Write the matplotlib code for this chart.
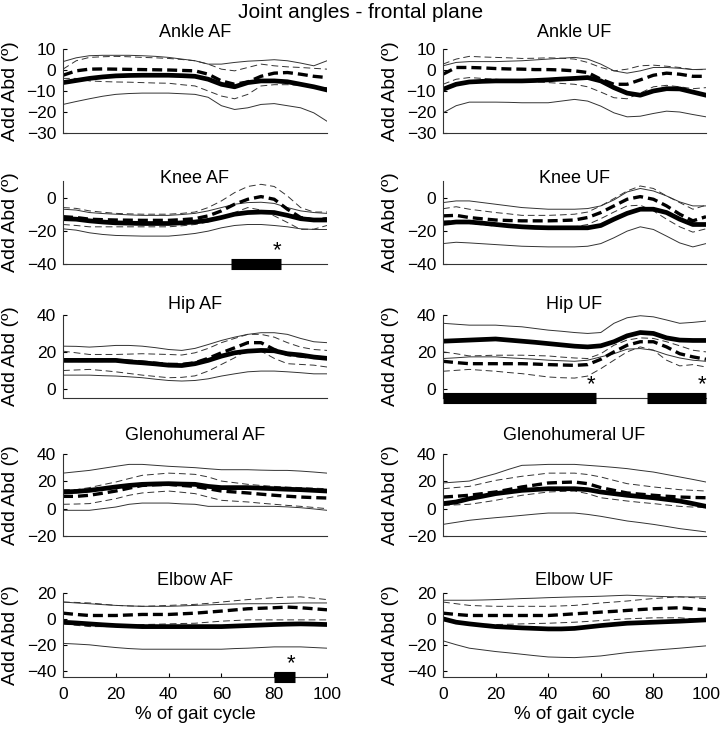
import matplotlib
matplotlib.use("Agg")
import matplotlib.pyplot as plt
import numpy as np

plt.rcParams['font.family'] = ['Liberation Sans', 'DejaVu Sans']

# % of gait cycle, one value every 5 %
gait = np.arange(0, 101, 5)

# solid = group mean (thick) with +/- SD (thin); dashed = other group
ankle_af_s = [-6, -5, -4, -3.3, -2.8, -2.6, -2.5, -2.5, -2.5, -2.7, -3, -4.4, -6.8, -8, -6, -5.2, -5.2, -5.6, -6.8, -8, -9.5]
ankle_af_s_up = [4, 5.8, 6.8, 7, 7, 7, 6.8, 6.5, 6, 5.2, 4.4, 2.8, 2.8, 3.6, 4.2, 4.5, 4.9, 4.4, 3.3, 2, 4.4]
ankle_af_s_lo = [-16.4, -15, -13.7, -12.5, -11.6, -11.2, -11, -11, -11, -11.3, -11.6, -13, -17, -18.8, -18, -16.4, -16, -17, -18, -20.4, -24.4]
ankle_af_d = [-2.5, -0.4, 0.4, 0.5, 0.4, 0.3, 0.2, 0.1, 0, -0.2, -0.4, -2, -5.2, -6.8, -5.7, -3, -1.5, -1.2, -2, -3, -3.6]
ankle_af_d_up = [0.4, 4.4, 6, 6.3, 6.5, 6.3, 6, 5.8, 5.5, 5, 4.4, 2.8, 0.4, -0.4, 1.2, 2.8, 2, 1.5, 1.2, 0.8, 0.4]
ankle_af_d_lo = [-4, -4, -5.2, -5.5, -5.7, -5.8, -6, -6.2, -6.3, -7, -7.6, -10, -12.4, -13.7, -11.6, -7.6, -7, -7, -7.3, -8, -8.4]

ankle_uf_s = [-9.2, -6.8, -5.7, -5.4, -5.2, -5.2, -5.2, -5, -4.7, -4.3, -4, -3.6, -5.2, -8.4, -11, -12, -10, -8.9, -9, -10.5, -12]
ankle_uf_s_up = [2, 3.6, 4, 4, 4, 4.2, 4.4, 4.8, 5.2, 5.6, 6, 5.2, 2.8, -0.4, -1.5, -0.4, 1.2, 1.2, 0.8, 0.2, 0.4]
ankle_uf_s_lo = [-20.4, -17, -15.3, -15.3, -15.3, -15.4, -15.6, -15.6, -15.6, -14.8, -14, -14.8, -17.2, -20.4, -22.3, -22, -20.7, -19.6, -20, -21.2, -22.3]
ankle_uf_d = [-2, 1.2, 1.2, 1, 0.7, 0.5, 0.4, 0.2, 0.2, 0, -0.4, -1.2, -4.4, -6.8, -6.8, -4.7, -2.5, -1.5, -2, -3, -3]
ankle_uf_d_up = [2.8, 5.2, 6.5, 6.2, 6, 5.8, 5.5, 5.6, 5.8, 5.6, 5.2, 3.6, 1.2, -0.4, 0.4, 2, 2.3, 1.8, 1.2, 0.2, 0.2]
ankle_uf_d_lo = [-6.8, -4.4, -3.6, -4, -4.4, -4.8, -5.2, -5.6, -6, -6.4, -6.8, -8, -10.5, -13.2, -13.7, -11, -8, -7.3, -8, -8.9, -8.4]

knee_af_s = [-12.7, -13, -14, -14.7, -15.2, -15.4, -15.6, -15.6, -15.6, -15.2, -14.7, -13.7, -12, -10, -9, -8.7, -9, -10.7, -12.7, -13.5, -13.5]
knee_af_s_up = [-7, -7.5, -9, -9.6, -10, -10.4, -10.7, -10.7, -10.7, -10.2, -9.5, -8, -6, -4, -3, -2.8, -3.5, -6, -8, -9, -9.5]
knee_af_s_lo = [-18.8, -19.6, -21.2, -22.2, -22.8, -23, -23.2, -23.2, -23.2, -22.5, -21.6, -20.2, -18.2, -16.8, -16.2, -16.2, -16.8, -17.6, -18.8, -19.2, -19.2]
knee_af_d = [-11.5, -12, -13, -13.3, -13.5, -13.6, -13.7, -13.7, -13.7, -13.3, -12.7, -11, -8, -4, -1, 0.6, -1, -7, -12, -13.5, -12.7]
knee_af_d_up = [-6, -6.5, -8, -8.8, -9.5, -9.8, -10, -10, -10, -9.5, -8.7, -6, -2, 3, 6.7, 8, 6.7, 1, -6, -8.7, -8.7]
knee_af_d_lo = [-16.2, -16.8, -17.6, -17.6, -17.6, -17.6, -17.6, -17.6, -17.6, -17, -16.2, -14.7, -12, -9, -6, -7.5, -11, -15, -19.2, -19, -16.8]

knee_uf_s = [-15.6, -14.7, -14.7, -15.4, -16.2, -17, -17.6, -18, -18.2, -18.2, -18.2, -18.2, -16.8, -13, -9.5, -7, -7, -9, -13, -16.2, -16.2]
knee_uf_s_up = [-3, -2, -2, -3, -4, -5, -6, -6.5, -7, -7, -7, -6.6, -5, -1.4, 3.4, 5.5, 4, 1, -2.6, -5, -5]
knee_uf_s_lo = [-27.7, -26.9, -27.3, -27.8, -28.3, -28.8, -29.3, -29.5, -29.7, -29.7, -29.7, -29.3, -27.7, -24.2, -20.2, -17.6, -19.2, -23.2, -27.3, -29.7, -27.7]
knee_uf_d = [-11, -10.7, -12, -12.8, -13.5, -13.8, -14, -14, -14, -13.8, -13.5, -12, -9, -5, -1, 0.6, -1, -5, -10, -14, -11.5]
knee_uf_d_up = [-6.7, -5.5, -7, -8, -9, -9.8, -10.7, -10.7, -10.7, -10.4, -10, -8.7, -5, -0.6, 4, 7, 5.5, 1, -3, -7, -4.6]
knee_uf_d_lo = [-14, -14, -15.6, -16.4, -17.2, -17.4, -17.6, -18, -18.2, -17.8, -17.6, -16.2, -12.7, -8.7, -5, -4.6, -8, -13, -17.6, -20.8, -18.8]

hip_af_s = [15.4, 15.4, 15.4, 15.4, 15.4, 14.6, 14.1, 13.5, 12.8, 12.6, 13.6, 15.4, 17.7, 19.5, 20.4, 20.8, 20.6, 19, 18.3, 17.2, 16.5]
hip_af_s_up = [23.1, 23, 22.6, 23, 23.5, 23.5, 23.1, 22.3, 21.3, 20.8, 21.9, 24, 26.2, 28, 29.5, 30.4, 30.4, 29.5, 27.3, 25.5, 25]
hip_af_s_lo = [7.4, 7.4, 7.4, 7.1, 6.9, 6.5, 6, 5.2, 4.5, 4.2, 4.5, 5.4, 6.9, 8.1, 9.2, 9.6, 9.6, 9.2, 8.7, 8.1, 8.1]
hip_af_d = [15.4, 15.4, 15.4, 15.4, 15.4, 15, 14.5, 13.8, 13.2, 13.2, 14.1, 16.5, 19.5, 22.2, 25, 25, 21.3, 18.6, 17.7, 17, 16.8]
hip_af_d_up = [20.4, 19.5, 18.6, 18.6, 18.6, 18.8, 19, 18.8, 18.6, 18.3, 19.5, 21.9, 25, 27.3, 29.5, 29.5, 28, 25, 22.6, 21.3, 20.8]
hip_af_d_lo = [9.9, 10.2, 10.5, 9.9, 9.2, 8.3, 7.4, 6.7, 6, 6.2, 7, 9.6, 13.2, 16.8, 21.3, 20.4, 16.5, 13.6, 13.2, 12.8, 11.8]

hip_uf_s = [25.8, 26.1, 26.4, 26.7, 27, 26.4, 25.8, 25.2, 24.5, 23.8, 23.1, 22.7, 23.3, 25.5, 28.7, 30.5, 30, 27.6, 26.4, 26.2, 26.2]
hip_uf_s_up = [35.5, 35, 34.5, 34.5, 34.5, 34, 33.6, 32.7, 31.8, 31.2, 30.5, 30, 30.5, 35.5, 38.5, 39.6, 39, 37.3, 35.5, 36, 36.7]
hip_uf_s_lo = [16.4, 16.8, 17.3, 17.3, 17.3, 16.8, 16.4, 16, 15.5, 15.2, 14.9, 15.5, 17.3, 19, 21.5, 21.8, 20.9, 18.5, 16.7, 15.5, 14.9]
hip_uf_d = [14.9, 14.2, 13.6, 13.6, 13.6, 13.6, 13.6, 13.4, 13.1, 12.9, 12.7, 13.1, 16, 20, 23.6, 25.5, 25.5, 22.7, 19, 17.3, 16]
hip_uf_d_up = [20, 19, 17.8, 18, 18.2, 18.2, 18.2, 18, 17.8, 17.2, 16.7, 16.4, 19, 23.6, 26.4, 27.6, 27.3, 25.5, 23.3, 20.9, 20]
hip_uf_d_lo = [9.5, 10, 10.5, 10, 9.5, 8.8, 8.2, 7.3, 6.4, 6, 5.8, 6.9, 10.9, 15.5, 20, 22.7, 20.9, 15.5, 12.4, 13.1, 11.8]

gleno_af_s = [12.2, 12.6, 13.4, 14.6, 15.9, 17, 17.8, 18.1, 18.3, 18, 17.8, 16.3, 15.4, 15.4, 15.4, 15, 14.6, 14.2, 13.9, 13.4, 12.9]
gleno_af_s_up = [26, 27, 28, 29.5, 31, 32.4, 32.4, 31.7, 31, 30.5, 30, 29.2, 28.5, 28.5, 28.5, 28.2, 28, 28, 27.5, 26.8, 26]
gleno_af_s_lo = [-1.2, -1.2, -1.2, 0, 1.2, 3.2, 4.1, 4.1, 4.1, 3.5, 3.2, 1.7, 1.7, 1.7, 1.7, 1.7, 1.7, 1.3, 0.7, -0.2, -1.2]
gleno_af_d = [9, 9, 9.8, 11.3, 12.9, 15, 17, 17.5, 17.8, 17, 16.3, 14.6, 12.9, 12.2, 11.5, 10.6, 9.8, 9.1, 8.5, 8.1, 7.8]
gleno_af_d_up = [13.9, 13.9, 15.4, 17.5, 19.5, 22, 24.4, 25.2, 26, 25.6, 25.1, 23.2, 20.2, 19, 17.8, 17, 16.3, 15.8, 15.4, 15, 14.6]
gleno_af_d_lo = [3.2, 3.4, 3.7, 5.5, 7.3, 9.8, 11.5, 12.2, 12.9, 12, 11, 8.5, 6.1, 5.5, 4.9, 4, 3.2, 2.4, 1.7, 0.9, 0]

gleno_uf_s = [3.7, 4.9, 7.3, 9.1, 11, 12.2, 13.4, 14, 14.6, 14.6, 14.6, 13.9, 12.2, 11, 9.8, 8.9, 8, 6.8, 5.6, 3.7, 1.7]
gleno_uf_s_up = [18.8, 19.5, 20.2, 23, 25.6, 28.8, 31.7, 32, 32.4, 32.4, 32.4, 31.7, 31, 30.2, 29.3, 28, 26.8, 25, 23.2, 21.4, 19.5]
gleno_uf_s_lo = [-11.5, -10, -8.5, -7.5, -6.6, -5.8, -4.9, -4, -3.2, -3.2, -3.2, -4.2, -5.6, -7.3, -9, -10.2, -11.5, -13, -14.6, -15.8, -17]
gleno_uf_d = [8.5, 9.1, 9.8, 11, 12.2, 14, 15.9, 17.3, 18.8, 19.2, 19.5, 18.3, 15.4, 13.4, 11.5, 10.6, 9.8, 9.1, 8.5, 8.2, 8]
gleno_uf_d_up = [14.6, 15.5, 16.3, 18.5, 20.7, 22.2, 23.7, 24.8, 26, 26, 26, 25, 23.2, 20.7, 18.3, 17.1, 15.9, 14.9, 13.9, 13.4, 12.9]
gleno_uf_d_lo = [2.4, 2.8, 3.2, 4.6, 6.1, 8, 9.8, 11, 12.2, 12.6, 12.9, 11, 8, 6.8, 5.6, 4.6, 3.7, 2.7, 1.7, 1.2, 0.7]

elbow_af_s = [-2.6, -3.2, -3.9, -4.6, -5.2, -5.6, -6, -6, -6, -6, -6, -6, -6, -5.6, -5.2, -4.8, -4.4, -4.1, -3.9, -4.1, -4.4]
elbow_af_s_up = [13, 12.3, 11.7, 11, 10.4, 10, 9.7, 9.7, 9.7, 10, 10.4, 10.8, 11.2, 11.5, 11.7, 11.7, 11.7, 12, 12.3, 12.3, 12.3]
elbow_af_s_lo = [-19, -19.5, -20.1, -21.2, -22.2, -23, -23.5, -23.5, -23.5, -23.5, -23.5, -23.5, -23.5, -23, -22.7, -22.2, -21.7, -21.7, -21.7, -22.2, -22.7]
elbow_af_d = [4.4, 3.4, 2.6, 2.6, 2.6, 3, 3.4, 3.4, 3.4, 3.9, 4.4, 5.2, 6, 6.9, 7.8, 8.2, 8.6, 9.1, 8.6, 7.8, 7]
elbow_af_d_up = [13, 12.7, 12.3, 11.4, 10.4, 10, 9.7, 10, 10.4, 10.8, 11.2, 12, 13, 14, 14.9, 15.6, 16.4, 16.8, 17, 16, 14.9]
elbow_af_d_lo = [-3.9, -5, -6, -6, -6, -5.2, -4.4, -4.2, -3.9, -3.6, -3.4, -2.6, -1.8, -1.3, -0.8, -0.8, -0.8, -0.8, -0.8, -0.8, -0.8]

elbow_uf_s = [0, -2.6, -3.9, -5, -6, -6.5, -7, -7.4, -7.8, -7.8, -7.4, -6.3, -5.2, -4.3, -3.4, -3, -2.6, -2.2, -1.8, -1.3, -0.8]
elbow_uf_s_up = [14.4, 14.4, 14.4, 14.6, 14.9, 15.3, 15.7, 16, 16.4, 16.7, 17, 17.2, 17.5, 17.9, 18.3, 17.9, 17.5, 17.2, 17, 17, 17]
elbow_uf_s_lo = [-17, -20, -22.7, -24, -25.3, -26.3, -27.4, -28.5, -29.5, -29.8, -30, -29.4, -28.7, -27.4, -26.1, -25.2, -24.3, -23.5, -22.7, -21.8, -20.9]
elbow_uf_d = [4.4, 3.4, 2.6, 2.6, 2.6, 2.6, 2.6, 2.6, 2.6, 3.2, 3.9, 4.5, 5.2, 5.8, 6.5, 7.2, 7.8, 8.2, 8.6, 7.8, 7]
elbow_uf_d_up = [13, 11.7, 10.4, 10, 9.7, 9.7, 9.7, 9.7, 9.7, 10, 10.4, 11.3, 12.3, 13, 13.8, 14.8, 15.7, 16.4, 17, 16.4, 15.7]
elbow_uf_d_lo = [-1.3, -2.6, -3.9, -4.2, -4.4, -4.2, -3.9, -3.6, -3.4, -3, -2.6, -2, -1.3, -0.6, 0, 0.4, 0.8, 0.8, 0.8, 0, -0.8]

titles = ["Ankle AF", "Ankle UF", "Knee AF", "Knee UF", "Hip AF", "Hip UF",
          "Glenohumeral AF", "Glenohumeral UF", "Elbow AF", "Elbow UF"]
row_ylims = [(-30, 10), (-40, 10), (-5, 40), (-20, 40), (-45, 20)]
row_yticks = [[-30, -20, -10, 0, 10], [-40, -20, 0], [0, 20, 40], [-20, 0, 20, 40], [-40, -20, 0, 20]]

# significant regions (start %, end %)
knee_af_sig = [(63.5, 82.5)]
hip_uf_sig = [(0, 58), (77.5, 100)]
elbow_af_sig = [(80, 88)]

panels = [
    (ankle_af_s, ankle_af_s_up, ankle_af_s_lo, ankle_af_d, ankle_af_d_up, ankle_af_d_lo, []),
    (ankle_uf_s, ankle_uf_s_up, ankle_uf_s_lo, ankle_uf_d, ankle_uf_d_up, ankle_uf_d_lo, []),
    (knee_af_s, knee_af_s_up, knee_af_s_lo, knee_af_d, knee_af_d_up, knee_af_d_lo, knee_af_sig),
    (knee_uf_s, knee_uf_s_up, knee_uf_s_lo, knee_uf_d, knee_uf_d_up, knee_uf_d_lo, []),
    (hip_af_s, hip_af_s_up, hip_af_s_lo, hip_af_d, hip_af_d_up, hip_af_d_lo, []),
    (hip_uf_s, hip_uf_s_up, hip_uf_s_lo, hip_uf_d, hip_uf_d_up, hip_uf_d_lo, hip_uf_sig),
    (gleno_af_s, gleno_af_s_up, gleno_af_s_lo, gleno_af_d, gleno_af_d_up, gleno_af_d_lo, []),
    (gleno_uf_s, gleno_uf_s_up, gleno_uf_s_lo, gleno_uf_d, gleno_uf_d_up, gleno_uf_d_lo, []),
    (elbow_af_s, elbow_af_s_up, elbow_af_s_lo, elbow_af_d, elbow_af_d_up, elbow_af_d_lo, elbow_af_sig),
    (elbow_uf_s, elbow_uf_s_up, elbow_uf_s_lo, elbow_uf_d, elbow_uf_d_up, elbow_uf_d_lo, []),
]

W, H = 722, 731
fig = plt.figure(figsize=(W / 100, H / 100), dpi=100)

# axes boxes in pixels: columns (left, width), rows (top, bottom), title baselines
cols = [(63, 264), (443, 263)]
rows = [(49, 133), (181, 264), (315, 398), (454, 536), (593, 677)]
title_base = [37, 183, 309, 440, 585]


def px_box(left, width, top, bottom):
    return [left / W, 1 - bottom / H, width / W, (bottom - top) / H]


for k, (s, s_up, s_lo, d, d_up, d_lo, sig) in enumerate(panels):
    r, c = divmod(k, 2)
    left, width = cols[c]
    top, bottom = rows[r]
    ax = fig.add_axes(px_box(left, width, top, bottom))

    ax.plot(gait, s_up, color='#333333', lw=0.7)
    ax.plot(gait, s_lo, color='#333333', lw=0.7)
    ax.plot(gait, d_up, color='#333333', lw=0.7, dashes=(7, 4))
    ax.plot(gait, d_lo, color='#333333', lw=0.7, dashes=(7, 4))
    ax.plot(gait, s, color='black', lw=3.4)
    ax.plot(gait, d, color='black', lw=2.4, dashes=(3, 1.5))

    ylo, yhi = row_ylims[r]
    for x0, x1 in sig:
        ax.plot([x0, x1], [ylo, ylo], color='black', lw=8, solid_capstyle='butt',
                clip_on=False, zorder=4)
        ax.annotate('*', (x1, ylo), xytext=(-3, 2), textcoords='offset points',
                    ha='center', va='bottom', fontsize=16)

    ax.set_xlim(0, 100)
    ax.set_ylim(ylo, yhi)
    ax.set_yticks(row_yticks[r])
    ax.spines['top'].set_visible(False)
    ax.spines['right'].set_visible(False)
    for sp in ax.spines.values():
        sp.set_linewidth(0.8)
        sp.set_color('#333333')
    ax.tick_params(direction='in', length=3, width=0.8, labelsize=12.5, pad=5)
    if r == 4:
        ax.set_xticks([0, 20, 40, 60, 80, 100])
        ax.tick_params(axis='x', pad=7)
        ax.set_xlabel('% of gait cycle', fontsize=13.5, labelpad=3)
    else:
        ax.set_xticks([])
    ax.set_ylabel('Add Abd (º)', fontsize=14)
    ax.yaxis.set_label_coords(-0.167, 0.5)

    fig.text((left + width / 2) / W, 1 - title_base[r] / H, titles[k],
             ha='center', va='baseline', fontsize=13)

fig.text(0.5, 1 - 18 / H, 'Joint angles - frontal plane', ha='center', va='baseline', fontsize=15)

fig.savefig('out.png', dpi=100)
